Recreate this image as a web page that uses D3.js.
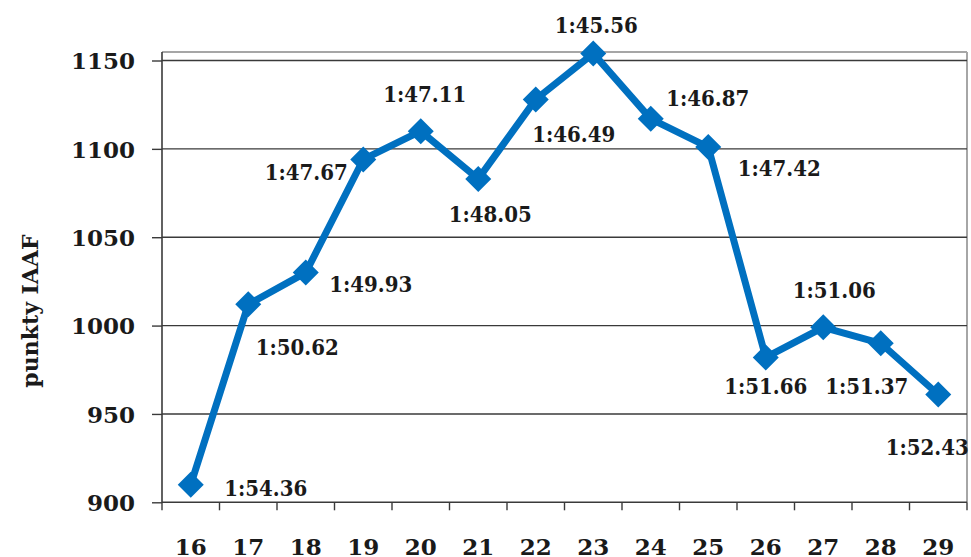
<!DOCTYPE html>
<html>
<head>
<meta charset="utf-8">
<script src="https://cdn.jsdelivr.net/npm/d3@7"></script>
<style>
  html, body { margin: 0; padding: 0; background: #ffffff; }
  svg { display: block; }
  .tick-label { font-family: "DejaVu Serif", serif; font-weight: bold; font-size: 23px; fill: #1a1a1a; }
  .data-label { font-family: "DejaVu Serif Condensed", "DejaVu Serif", serif; font-stretch: condensed; font-weight: bold; font-size: 22px; fill: #1a1a1a; }
  .y-title { font-family: "DejaVu Serif", serif; font-weight: bold; font-size: 22px; fill: #1a1a1a; }
</style>
</head>
<body>
<svg id="chart" width="971" height="557"></svg>
<script>
// ---- data ----
const ages = ["16","17","18","19","20","21","22","23","24","25","26","27","28","29"];
const points = [910, 1012, 1030, 1094, 1110, 1083, 1128, 1154, 1117, 1101, 982, 999, 990, 961];
const times = ["1:54.36","1:50.62","1:49.93","1:47.67","1:47.11","1:48.05","1:46.49","1:45.56","1:46.87","1:47.42","1:51.66","1:51.06","1:51.37","1:52.43"];
const yTicks = [900, 950, 1000, 1050, 1100, 1150];
const yTitle = "punkty IAAF";
// label placement offsets (dx, dy from the marker centre)
const labelOffsets = [[75,3],[49,43],[65,12],[-57,13],[4,-37],[12,35],[38,35],[3,-28],[57,-21],[71,21],[0,29],[11,-37],[-14,43],[-11,53]];

// ---- layout ----
const plot = { left: 162, right: 967, top: 52, bottom: 502.3 };
const svg = d3.select("#chart");

const x = d3.scaleBand().domain(ages).range([plot.left, plot.right]).padding(0);
const y = d3.scaleLinear().domain([900, 1150]).range([plot.bottom, 60.5]);
const cx = d => x(d) + x.bandwidth() / 2;

// plot area border (top & right, light grey)
svg.append("line").attr("x1", plot.left).attr("x2", plot.right)
  .attr("y1", plot.top).attr("y2", plot.top)
  .attr("stroke", "#a6a6a6").attr("stroke-width", 2);
svg.append("line").attr("x1", plot.right).attr("x2", plot.right)
  .attr("y1", plot.top).attr("y2", plot.bottom)
  .attr("stroke", "#a6a6a6").attr("stroke-width", 2);

// gridlines
svg.append("g").selectAll("line").data(yTicks.filter(v => v !== 900)).join("line")
  .attr("x1", plot.left).attr("x2", plot.right)
  .attr("y1", d => y(d)).attr("y2", d => y(d))
  .attr("stroke", "#3a3a3a").attr("stroke-width", 1.4);

// y axis
const yAxis = svg.append("g").attr("transform", `translate(${plot.left},0)`)
  .call(d3.axisLeft(y).tickValues(yTicks).tickSize(10).tickPadding(17).tickFormat(d3.format("d")));
yAxis.select(".domain").remove();
yAxis.selectAll(".tick line").attr("stroke", "#3a3a3a").attr("stroke-width", 1.4);
yAxis.selectAll(".tick text").attr("class", "tick-label").attr("dy", "0.36em").attr("font-size", null).attr("font-family", null);

// axis lines
svg.append("line").attr("x1", plot.left).attr("x2", plot.left)
  .attr("y1", plot.top).attr("y2", plot.bottom)
  .attr("stroke", "#3a3a3a").attr("stroke-width", 1.6);
svg.append("line").attr("x1", plot.left).attr("x2", plot.right)
  .attr("y1", plot.bottom).attr("y2", plot.bottom)
  .attr("stroke", "#3a3a3a").attr("stroke-width", 1.6);

// x axis tick marks at category boundaries
const bounds = ages.map(d => x(d)).concat([plot.right]);
svg.append("g").selectAll("line").data(bounds).join("line")
  .attr("x1", d => d).attr("x2", d => d)
  .attr("y1", plot.bottom).attr("y2", plot.bottom + 8)
  .attr("stroke", "#3a3a3a").attr("stroke-width", 1.4);

// x axis labels
const xAxis = svg.append("g").attr("transform", `translate(0,${plot.bottom})`)
  .call(d3.axisBottom(x).tickSize(0).tickPadding(36));
xAxis.select(".domain").remove();
xAxis.selectAll(".tick text").attr("class", "tick-label").attr("font-size", null).attr("font-family", null);

// y title
svg.append("text").attr("class", "y-title")
  .attr("transform", "translate(38,311) rotate(-90)")
  .attr("text-anchor", "middle")
  .text(yTitle);

// line
const line = d3.line().x((d, i) => cx(ages[i])).y(d => y(d));
svg.append("path").datum(points)
  .attr("d", line)
  .attr("fill", "none")
  .attr("stroke", "#0070c0")
  .attr("stroke-width", 7)
  .attr("stroke-linejoin", "round");

// diamond markers
const r = 13;
svg.append("g").selectAll("path").data(points).join("path")
  .attr("transform", (d, i) => `translate(${cx(ages[i])},${y(d)})`)
  .attr("d", `M0,${-r}L${r},0L0,${r}L${-r},0Z`)
  .attr("fill", "#0070c0");

// data labels
svg.append("g").selectAll("text").data(times).join("text")
  .attr("class", "data-label")
  .attr("x", (d, i) => cx(ages[i]) + labelOffsets[i][0])
  .attr("y", (d, i) => y(points[i]) + labelOffsets[i][1])
  .attr("dy", "0.36em")
  .attr("text-anchor", "middle")
  .text(d => d);
</script>
</body>
</html>
